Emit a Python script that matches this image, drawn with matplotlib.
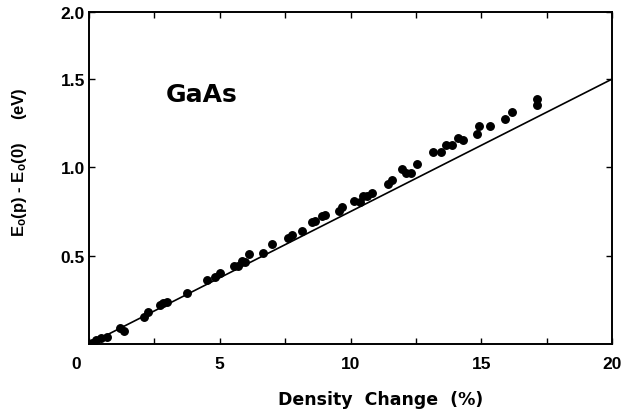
import matplotlib
matplotlib.use("Agg")
import matplotlib.pyplot as plt
import matplotlib.transforms as mtransforms
from matplotlib.ticker import MultipleLocator

plt.rcParams['font.family'] = ['Liberation Sans', 'DejaVu Sans']
plt.rcParams['mathtext.fontset'] = 'custom'
plt.rcParams['mathtext.rm'] = 'Liberation Sans:bold'
plt.rcParams['mathtext.it'] = 'Liberation Sans:bold'
plt.rcParams['mathtext.bf'] = 'Liberation Sans:bold'

# Measured data: density change (%) vs E0(p) - E0(0) (eV)
density_change = [0.02, 0.11, 0.26, 0.44, 0.70, 1.17, 1.32, 2.10, 2.27, 2.72,
                  2.84, 2.99, 3.76, 4.50, 4.82, 5.01, 5.54, 5.71, 5.86, 5.97,
                  6.12, 6.64, 7.01, 7.62, 7.75, 8.13, 8.52, 8.64, 8.90, 9.02,
                  9.57, 9.69, 10.13, 10.36, 10.49, 10.64, 10.81, 11.45, 11.58, 11.96,
                  12.12, 12.30, 12.55, 13.14, 13.45, 13.65, 13.87, 14.12, 14.31, 14.83,
                  14.93, 15.33, 15.91, 16.16, 17.14, 17.14]
energy_shift = [0.000, 0.006, 0.023, 0.034, 0.042, 0.088, 0.076, 0.151, 0.183, 0.222,
                0.230, 0.236, 0.289, 0.362, 0.381, 0.400, 0.440, 0.443, 0.468, 0.462,
                0.509, 0.515, 0.566, 0.600, 0.617, 0.641, 0.689, 0.694, 0.726, 0.730,
                0.754, 0.774, 0.811, 0.802, 0.836, 0.836, 0.853, 0.905, 0.930, 0.990,
                0.968, 0.968, 1.019, 1.088, 1.085, 1.126, 1.128, 1.166, 1.154, 1.190,
                1.235, 1.235, 1.273, 1.315, 1.390, 1.353]

# Linear reference line
line_x = [0, 20]
line_y = [0, 1.5]

x_ticks = [0, 5, 10, 15, 20]
x_tick_labels = ['0', '5', '10', '15', '20']
y_top = 1.88
y_ticks = [0.5, 1.0, 1.5, y_top]
y_tick_labels = ['0.5', '1.0', '1.5', '2.0']

fig = plt.figure(figsize=(6.25, 4.14), dpi=100)
ax = fig.add_axes([89/625, 69/414, (612-89)/625, (345-13)/414])

ax.plot(line_x, line_y, color='black', lw=1.2, zorder=2)
ax.plot(density_change, energy_shift, 'o', color='black', ms=5.4, mec='black', zorder=3)

ax.set_xlim(0, 20)
ax.set_ylim(0, y_top)
ax.set_xticks(x_ticks)
ax.set_xticklabels(x_tick_labels, fontsize=12.5, fontweight='bold')
ax.xaxis.set_minor_locator(MultipleLocator(2.5))
ax.set_yticks(y_ticks)
ax.set_yticklabels(y_tick_labels, fontsize=12.5, fontweight='bold')

ax.tick_params(axis='both', which='both', direction='in', length=4, width=1.0,
               top=True, right=True)
ax.tick_params(axis='x', which='major', pad=9)
ax.tick_params(axis='y', which='major', pad=3)

for s in ax.spines.values():
    s.set_linewidth(1.4)

# shift the shared-origin "0" label slightly left
offset = mtransforms.ScaledTranslation(-13/100, 0, fig.dpi_scale_trans)
lbl0 = ax.get_xticklabels()[0]
lbl0.set_transform(lbl0.get_transform() + offset)

ax.set_xlabel('Density  Change  (%)', fontsize=12.5, fontweight='bold',
              family='DejaVu Sans')
ax.xaxis.set_label_coords(0.558, -0.14)
ax.set_ylabel(r'E$_\mathrm{o}$(p) - E$_\mathrm{o}$(0)     (eV)', fontsize=12,
              fontweight='bold', family='Liberation Sans')
ax.yaxis.set_label_coords(-0.115, 0.55)

ax.text(0.146, 0.753, 'GaAs', transform=ax.transAxes, fontsize=18, fontweight='bold',
        family='DejaVu Sans', va='center', ha='left')

fig.savefig('out.png', dpi=100)
